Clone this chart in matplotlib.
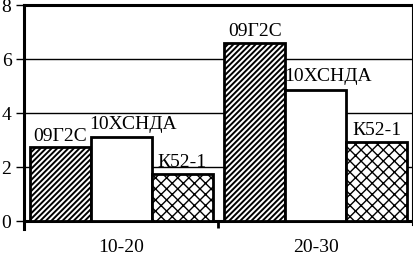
import numpy as np
import matplotlib
matplotlib.use('Agg')
from matplotlib import pyplot as plt

# data
categories = ['10-20', '20-30']
steels = ['09Г2С', '10ХСНДА', 'К52-1']
val_09g2s = [2.73, 6.62]
val_10hsnda = [3.13, 4.88]
val_k52 = [1.76, 2.93]

plt.rcParams['font.family'] = ['Liberation Serif', 'DejaVu Serif']

fig = plt.figure(figsize=(4.14, 2.57), dpi=100)
ax = fig.add_axes([24/414, 36/257, 389/414, 215.5/257])

x = np.arange(len(categories))
w = 0.314
series = [val_09g2s, val_10hsnda, val_k52]
hatches = ['//////', '', 'xxx']
hatch_lw = [1.4, 1.0, 1.0]

for i in range(3):
    with plt.rc_context({'hatch.linewidth': hatch_lw[i]}):
        bars = ax.bar(x + (i - 1) * w, series[i], w, color='white', edgecolor='black',
                      linewidth=2, hatch=hatches[i], zorder=3)
    for b in bars:
        if i == 1:
            ax.annotate(steels[i], (b.get_x(), b.get_height()), xytext=(-1, 3),
                        textcoords='offset points', ha='left', va='bottom', fontsize=14)
        else:
            ax.annotate(steels[i], (b.get_x() + b.get_width() / 2, b.get_height()), xytext=(0, 2),
                        textcoords='offset points', ha='center', va='bottom', fontsize=14)

ax.set_xlim(-0.5, 1.5)
ax.set_ylim(0, 8)
ax.set_yticks([0, 2, 4, 6, 8])
ax.set_xticks(x)
ax.set_xticklabels(categories)
ax.set_xticks([0.5], minor=True)
ax.tick_params(axis='x', which='major', length=0, pad=13, labelsize=14)
ax.tick_params(axis='x', which='minor', length=5, width=2, direction='out')
ax.tick_params(axis='y', length=6, width=1, pad=3, labelsize=14)
ax.grid(axis='y', color='black', linewidth=1, zorder=0)

for s in ['left', 'right', 'top', 'bottom']:
    ax.spines[s].set_linewidth(2.2)
ax.spines['left'].set_bounds(-0.28, 8)
ax.spines['right'].set_linewidth(1.5)
ax.spines['right'].set_bounds(-0.15, 8)

fig.savefig('out.png', dpi=100)
